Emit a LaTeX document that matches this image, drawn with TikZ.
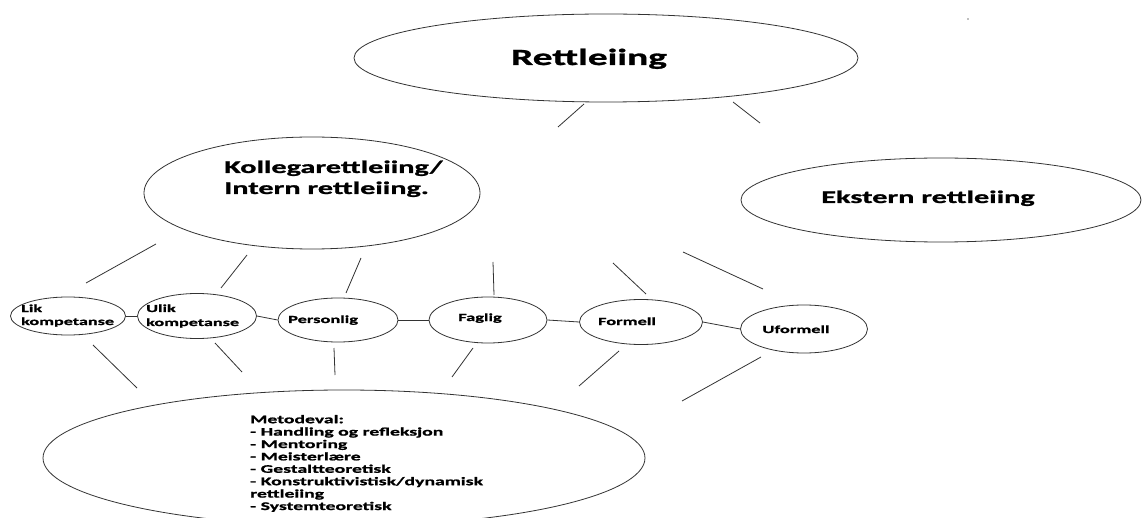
\documentclass[tikz,border=0pt]{standalone}
\usepackage{fontspec}
\usetikzlibrary{shapes.geometric}
\newfontfamily\cf[FakeStretch=1.7,BoldFeatures={FakeBold=1.2}]{Carlito}
\begin{document}
\begin{tikzpicture}[x=1pt,y=-1pt,
  ell/.style={ellipse,draw=black!80,line width=0.8pt,inner sep=0pt},
  con/.style={draw=black!80,line width=0.8pt},
  txt/.style={inner sep=0pt,text=black,align=left}]
\useasboundingbox (0,0) rectangle (1142,518);
\clip (0,0) rectangle (1142,518);
% ellipses
\node[ell,minimum width=504,minimum height=88] (ret) at (606,58) {};
\node[ell,minimum width=336,minimum height=112] (kol) at (312,193) {};
\node[ell,minimum width=400,minimum height=84] (eks) at (941,200) {};
\node[ell,minimum width=115,minimum height=38] (lik) at (68,316) {};
\node[ell,minimum width=119,minimum height=45] (ulik) at (197,316) {};
\node[ell,minimum width=120,minimum height=44] (per) at (338,320) {};
\node[ell,minimum width=118,minimum height=46] (fag) at (488,320) {};
\node[ell,minimum width=123,minimum height=45] (for) at (641,322) {};
\node[ell,minimum width=127,minimum height=48] (ufo) at (804,329) {};
\node[ell,minimum width=602,minimum height=136] (met) at (344,458) {};
% texts
\node[txt,anchor=base,font=\cf\bfseries\fontsize{23.2}{27}\selectfont] (tret) at (589,65) {Rettleiing};
\node[txt,anchor=base west,font=\cf\bfseries\fontsize{17.8}{21}\selectfont] (tkol) at (224,194) {Kollegarettleiing/\\Intern rettleiing.};
\node[txt,anchor=base,font=\cf\bfseries\fontsize{17.8}{21}\selectfont] (teks) at (928,203) {Ekstern rettleiing};
\node[txt,anchor=base west,font=\cf\bfseries\fontsize{10.7}{13}\selectfont] (tlik) at (21,325) {Lik\\kompetanse};
\node[txt,anchor=base west,font=\cf\bfseries\fontsize{10.7}{14}\selectfont] (tulik) at (146,326) {Ulik\\kompetanse};
\node[txt,anchor=base west,font=\cf\bfseries\fontsize{10.8}{13}\selectfont] (tper) at (288,323) {Personlig};
\node[txt,anchor=base,font=\cf\bfseries\fontsize{10.8}{13}\selectfont] (tfag) at (480,321) {Faglig};
\node[txt,anchor=base,font=\cf\bfseries\fontsize{10.8}{13}\selectfont] (tfor) at (627,325) {Formell};
\node[txt,anchor=base,font=\cf\bfseries\fontsize{10.8}{13}\selectfont] (tufo) at (796,333) {Uformell};
\node[txt,anchor=base west,font=\cf\bfseries\fontsize{11.6}{12.4}\selectfont] (tmet) at (250,510) {Metodeval:\\- Handling og refleksjon\\- Mentoring\\- Meisterlære\\- Gestaltteoretisk\\- Konstruktivistisk/dynamisk\\rettleiing\\- Systemteoretisk};
% row connectors
\draw[con] (lik.east) -- (ulik.west);
\draw[con] (ulik.east) -- (per.west);
\draw[con] (per.east) -- (fag.west);
\draw[con] (fag.east) -- (for.west);
\draw[con] (for.east) -- (ufo.west);
% free connectors
\coordinate (r1a) at (584,104); \coordinate (r1b) at (558,127);
\coordinate (r2a) at (733,102); \coordinate (r2b) at (760,123);
\draw[con] (r1a) -- (r1b);
\draw[con] (r2a) -- (r2b);
\coordinate (k1a) at (156,244); \coordinate (k1b) at (86,283);
\coordinate (k2a) at (247,255); \coordinate (k2b) at (221,288);
\coordinate (k3a) at (361,258); \coordinate (k3b) at (346,293);
\coordinate (k4a) at (493,262); \coordinate (k4b) at (494,295);
\coordinate (k5a) at (613,263); \coordinate (k5b) at (646,294);
\coordinate (k6a) at (683,252); \coordinate (k6b) at (763,289);
\foreach \i in {1,...,6} {\draw[con] (k\i a) -- (k\i b);}
\coordinate (m1a) at (93,345); \coordinate (m1b) at (137,388);
\coordinate (m2a) at (215,343); \coordinate (m2b) at (242,372);
\coordinate (m3a) at (334,348); \coordinate (m3b) at (335,375);
\coordinate (m4a) at (473,348); \coordinate (m4b) at (452,377);
\coordinate (m5a) at (619,351); \coordinate (m5b) at (579,386);
\coordinate (m6a) at (761,357); \coordinate (m6b) at (682,401);
\foreach \i in {1,...,6} {\draw[con] (m\i a) -- (m\i b);}
\fill[black!50] (968,19) circle (0.8);
\end{tikzpicture}
\end{document}
